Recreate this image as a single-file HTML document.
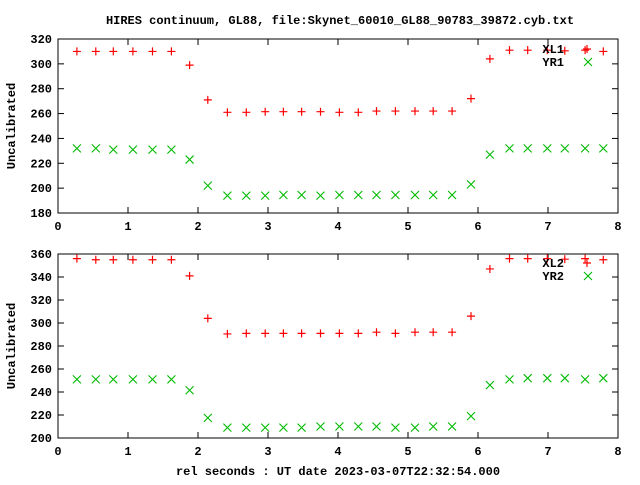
<!DOCTYPE html>
<html><head><meta charset="utf-8"><style>
body{margin:0;background:#fff}
svg text{font-family:"Liberation Mono","DejaVu Sans Mono",monospace;font-weight:bold;font-size:12px;fill:#000}
</style></head><body>
<svg id="c" width="640" height="480" xmlns="http://www.w3.org/2000/svg">
<text x="340" y="24" text-anchor="middle">HIRES continuum, GL88, file:Skynet_60010_GL88_90783_39872.cyb.txt</text>
<text x="338" y="475" text-anchor="middle">rel seconds : UT date 2023-03-07T22:32:54.000</text>
</svg>
<script>
const xs=[0.27,0.54,0.79,1.07,1.35,1.62,1.88,2.14,2.42,2.69,2.96,3.22,3.48,3.75,4.02,4.29,4.55,4.82,5.10,5.36,5.63,5.90,6.17,6.45,6.71,6.99,7.24,7.53,7.79];
const xl1=[310,310,310,310,310,310,299,271,261,261,261.5,261.5,261.5,261.5,261,261,262,262,262,262,262,272,304,311,311,311,310.5,311,310];
const yr1=[232,232,231,231,231,231,223,202,194,194,194,194.5,194.5,194,194.5,194.5,194.5,194.5,194.5,194.5,194.5,203,227,232,232,232,232,232,232];
const xl2=[356,355,355,355,355,355,341,304,290.5,291,291,291,291,291,291,291,292,291,292,292,292,306,347,356,356,356,355.5,356,355];
const yr2=[251,251,251,251,251,251,241.5,217.5,209,209,209,209,209,210,210,210,210,209,209,210,210,219,246,251,252,252,252,251,252];
const xTicks=[0,1,2,3,4,5,6,7,8];
const yTicks1=[180,200,220,240,260,280,300,320];
const yTicks2=[200,220,240,260,280,300,320,340,360];
const svg=document.getElementById('c');const NS='http://www.w3.org/2000/svg';
function mk(t,a,p){const e=document.createElementNS(NS,t);for(const k in a)e.setAttribute(k,a[k]);(p||svg).appendChild(e);return e;}
function panel(id,top,bot,ymin,ymax,yt,s1,s2,n1,n2,ly){
 const L=58,R=618;
 const g=mk('g',{});
 
 
 const X=v=>L+(v-0)/(8-0)*(R-L);
 const Y=v=>bot-(v-ymin)/(ymax-ymin)*(bot-top);
 const fr=mk('rect',{x:L,y:top,width:R-L,height:bot-top,fill:'none',stroke:'#000','stroke-width':1},g);
 
 
 xTicks.forEach(t=>{const x=X(t);
  mk('line',{x1:x,y1:bot,x2:x,y2:bot-6,stroke:'#000'},g);
  mk('line',{x1:x,y1:top,x2:x,y2:top+6,stroke:'#000'},g);
  const tx=mk('text',{x:x,y:bot+17,'text-anchor':'middle'},g);tx.textContent=t;
  
  });
 yt.forEach(t=>{const y=Y(t);
  mk('line',{x1:L,y1:y,x2:L+6,y2:y,stroke:'#000'},g);
  mk('line',{x1:R,y1:y,x2:R-6,y2:y,stroke:'#000'},g);
  const tx=mk('text',{x:L-6,y:y+4,'text-anchor':'end'},g);tx.textContent=t;
  
  });
 const yl=mk('text',{x:0,y:0,'text-anchor':'middle',transform:`translate(15,${(top+bot)/2}) rotate(-90)`},g);yl.textContent='Uncalibrated';
 
 
 function plus(x,y,p){mk('path',{d:`M${x-4},${y}h8M${x},${y-4}v8`,stroke:'#f00','stroke-width':1.2,fill:'none'},p);}
 function cross(x,y,p){mk('path',{d:`M${x-4},${y-4}l8,8M${x-4},${y+4}l8,-8`,stroke:'#0b0','stroke-width':1.1,fill:'none'},p);}
 const g1=mk('g',{},g);
 const g2=mk('g',{},g);
 xs.forEach((v,i)=>{plus(X(v),Y(s1[i]),g1);cross(X(v),Y(s2[i]),g2);});
 const lg=mk('g',{},g);
 const t1=mk('text',{x:564,y:ly+4,'text-anchor':'end'},lg);t1.textContent=n1;
 const t2=mk('text',{x:564,y:ly+17,'text-anchor':'end'},lg);t2.textContent=n2;
 plus(587,ly,lg);cross(588,ly+13,lg);
}
panel('top-panel',39,213,180,320,yTicks1,xl1,yr1,'XL1','YR1',49);
panel('bottom-panel',254,438,200,360,yTicks2,xl2,yr2,'XL2','YR2',263);
</script>
</body></html>
